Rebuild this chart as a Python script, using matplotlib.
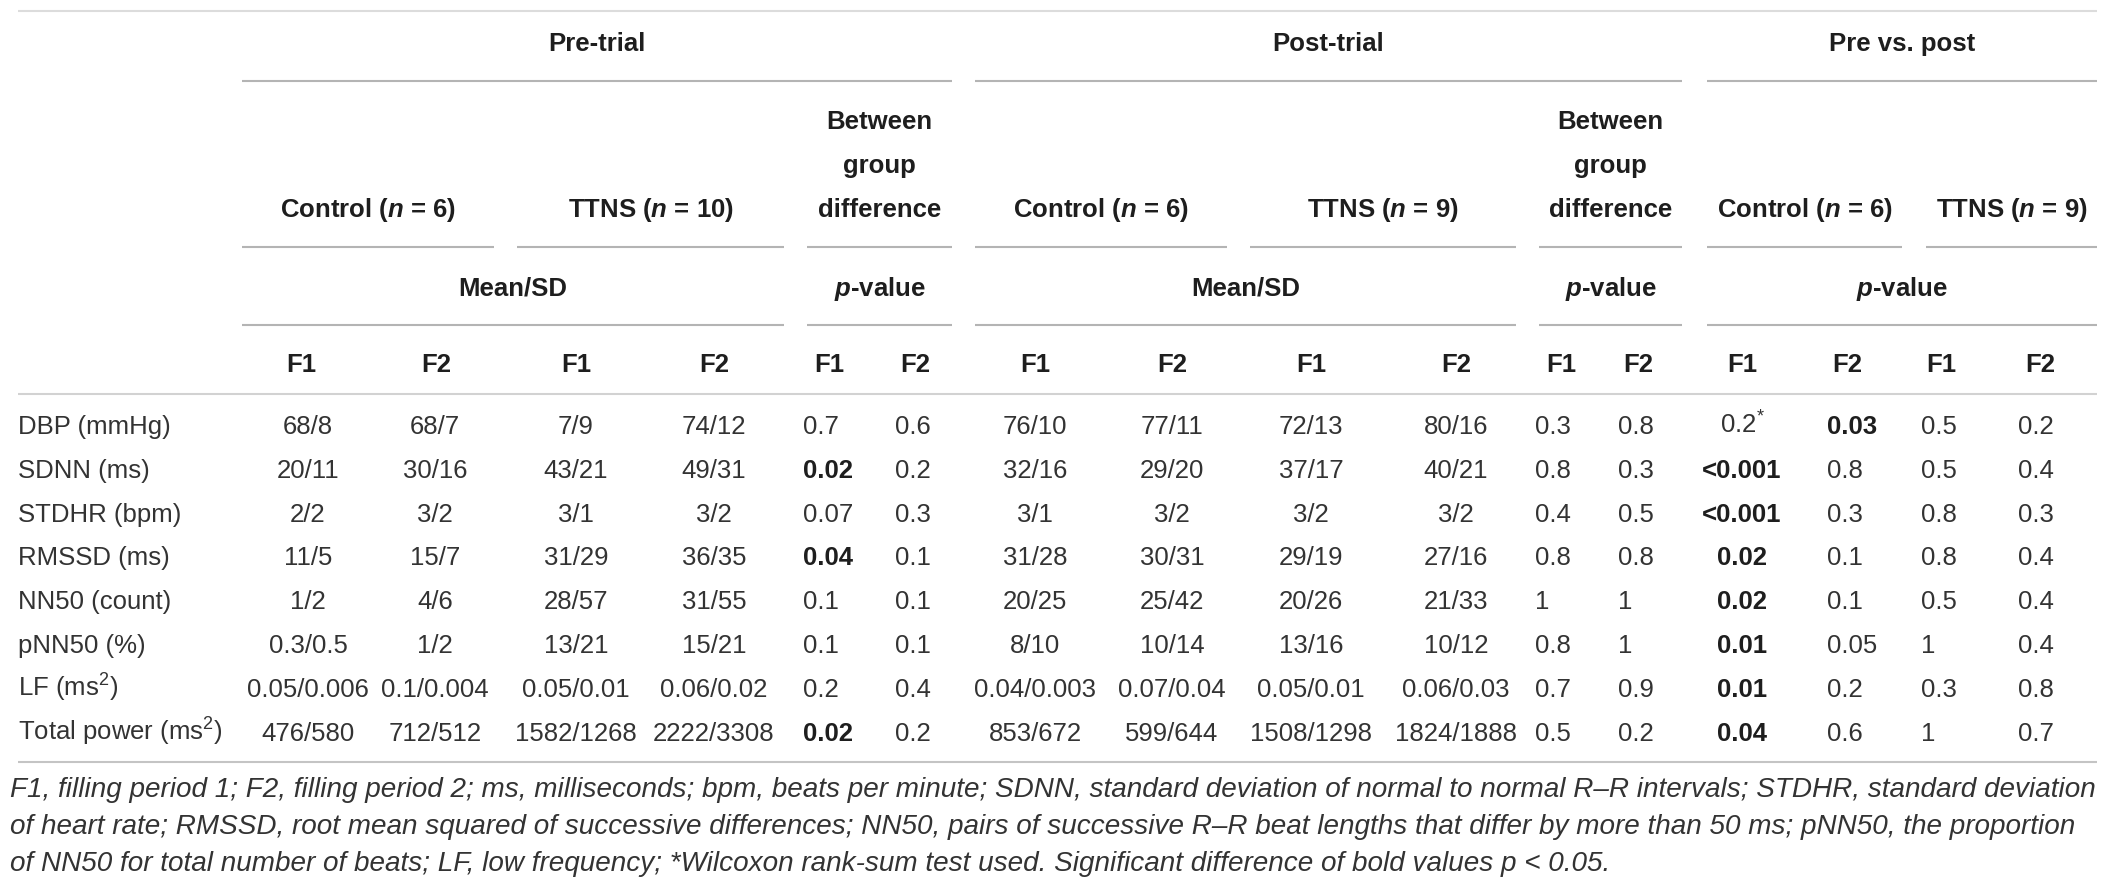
import matplotlib
matplotlib.use('Agg')
import matplotlib.pyplot as plt

FONT = 'Liberation Sans'
plt.rcParams['font.family'] = [FONT, 'DejaVu Sans']
plt.rcParams['mathtext.fontset'] = 'custom'
plt.rcParams['mathtext.rm'] = FONT
plt.rcParams['mathtext.it'] = FONT + ':italic'
plt.rcParams['mathtext.bf'] = FONT + ':bold'
plt.rcParams['mathtext.bfit'] = FONT + ':italic:bold'

# ---- table content ----
periods = ['Pre-trial', 'Post-trial', 'Pre vs. post']
groups = ['Control ($\\mathbfit{n}$ = 6)', 'TTNS ($\\mathbfit{n}$ = 10)', 'Between group difference',
          'Control ($\\mathbfit{n}$ = 6)', 'TTNS ($\\mathbfit{n}$ = 9)', 'Between group difference',
          'Control ($\\mathbfit{n}$ = 6)', 'TTNS ($\\mathbfit{n}$ = 9)']
stats = ['Mean/SD', '$\\mathbfit{p}$-value', 'Mean/SD', '$\\mathbfit{p}$-value', '$\\mathbfit{p}$-value']
fillings = ['F1', 'F2'] * 8

row_labels = ['DBP (mmHg)', 'SDNN (ms)', 'STDHR (bpm)', 'RMSSD (ms)', 'NN50 (count)',
              'pNN50 (%)', 'LF (ms$^{2}$)', 'Total power (ms$^{2}$)']

pre_control_f1 = ['68/8', '20/11', '2/2', '11/5', '1/2', '0.3/0.5', '0.05/0.006', '476/580']
pre_control_f2 = ['68/7', '30/16', '3/2', '15/7', '4/6', '1/2', '0.1/0.004', '712/512']
pre_ttns_f1 = ['7/9', '43/21', '3/1', '31/29', '28/57', '13/21', '0.05/0.01', '1582/1268']
pre_ttns_f2 = ['74/12', '49/31', '3/2', '36/35', '31/55', '15/21', '0.06/0.02', '2222/3308']
pre_p_f1 = ['0.7', '0.02', '0.07', '0.04', '0.1', '0.1', '0.2', '0.02']
pre_p_f2 = ['0.6', '0.2', '0.3', '0.1', '0.1', '0.1', '0.4', '0.2']
post_control_f1 = ['76/10', '32/16', '3/1', '31/28', '20/25', '8/10', '0.04/0.003', '853/672']
post_control_f2 = ['77/11', '29/20', '3/2', '30/31', '25/42', '10/14', '0.07/0.04', '599/644']
post_ttns_f1 = ['72/13', '37/17', '3/2', '29/19', '20/26', '13/16', '0.05/0.01', '1508/1298']
post_ttns_f2 = ['80/16', '40/21', '3/2', '27/16', '21/33', '10/12', '0.06/0.03', '1824/1888']
post_p_f1 = ['0.3', '0.8', '0.4', '0.8', '1', '0.8', '0.7', '0.5']
post_p_f2 = ['0.8', '0.3', '0.5', '0.8', '1', '1', '0.9', '0.2']
pvp_control_f1 = ['0.2*', '<0.001', '<0.001', '0.02', '0.02', '0.01', '0.01', '0.04']
pvp_control_f2 = ['0.03', '0.8', '0.3', '0.1', '0.1', '0.05', '0.2', '0.6']
pvp_ttns_f1 = ['0.5', '0.5', '0.8', '0.8', '0.5', '1', '0.3', '1']
pvp_ttns_f2 = ['0.2', '0.4', '0.3', '0.4', '0.4', '0.4', '0.8', '0.7']

columns = [pre_control_f1, pre_control_f2, pre_ttns_f1, pre_ttns_f2, pre_p_f1, pre_p_f2,
           post_control_f1, post_control_f2, post_ttns_f1, post_ttns_f2, post_p_f1, post_p_f2,
           pvp_control_f1, pvp_control_f2, pvp_ttns_f1, pvp_ttns_f2]
p_columns = [4, 5, 10, 11, 12, 13, 14, 15]

caption = [
    'F1, filling period 1; F2, filling period 2; ms, milliseconds; bpm, beats per minute; SDNN, standard deviation of normal to normal R\u2013R intervals; STDHR, standard deviation',
    'of heart rate; RMSSD, root mean squared of successive differences; NN50, pairs of successive R\u2013R beat lengths that differ by more than 50 ms; pNN50, the proportion',
    'of NN50 for total number of beats; LF, low frequency; *Wilcoxon rank-sum test used. Significant difference of bold values p < 0.05.',
]

# ---- layout (pixels) ----
W, H = 2126, 889
L, R = 18, 2097
period_spans = [(242, 952), (975, 1682), (1707, 2097)]
group_spans = [(242, 494), (517, 784), (807, 952), (975, 1227), (1250, 1516), (1539, 1682),
               (1707, 1902), (1926, 2097)]
stat_spans = [(242, 784), (807, 952), (975, 1516), (1539, 1682), (1707, 2097)]
col_x = [308, 435, 576, 714, 803, 895, 1035, 1172, 1311, 1456, 1535, 1618, 1742, 1827, 1921, 2018]
col_ha = ['center'] * 4 + ['left'] * 2 + ['center'] * 4 + ['left'] * 2 + ['center'] + ['left'] * 3
head_x = [301, 436, 576, 714, 829, 915, 1035, 1172, 1311, 1456, 1561, 1638, 1742, 1847, 1941, 2040]
row_y0, row_dy = 425, 43.8
FS = 18.5
BASE = 9  # baseline offset from visual centre
txt_c = '#333333'
head_c = '#1e1e1e'
line_c = '#b4b4b4'


def is_sig(s):
    s = s.replace('*', '')
    if s.startswith('<'):
        return True
    return float(s) < 0.05


fig = plt.figure(figsize=(W / 100, H / 100), dpi=100)
ax = fig.add_axes([0, 0, 1, 1])
ax.set_xlim(0, W)
ax.set_ylim(H, 0)
ax.axis('off')


def hline(y, x0, x1, c=line_c, lw=1.5):
    ax.plot([x0, x1], [y, y], color=c, lw=lw, solid_capstyle='butt')


def head(x, y, s, ha='center'):
    ax.text(x, y + BASE, s, ha=ha, va='baseline', fontsize=FS, fontweight='bold', color=head_c)


# rules
hline(11, L, R, c='#dcdcdc')
for x0, x1 in period_spans:
    hline(81, x0, x1)
for x0, x1 in group_spans:
    hline(247, x0, x1)
for x0, x1 in stat_spans:
    hline(325, x0, x1)
hline(394, L, R, c='#d2d2d2')
hline(762, L, R, c='#c4c4c4')

# header rows
for name, (x0, x1) in zip(periods, period_spans):
    head((x0 + x1) / 2, 42, name)
for name, (x0, x1) in zip(groups, group_spans):
    xc = (x0 + x1) / 2
    if name.startswith('Between'):
        for word, y in zip(['Between', 'group', 'difference'], [120, 164, 208]):
            head(xc, y, word)
    else:
        head(xc, 208, name)
for name, (x0, x1) in zip(stats, stat_spans):
    head((x0 + x1) / 2, 287, name)
for name, x in zip(fillings, head_x):
    head(x, 363, name)

# body
for i, lab in enumerate(row_labels):
    y = row_y0 + i * row_dy + BASE
    ax.text(L, y, lab, ha='left', va='baseline', fontsize=FS, color=txt_c)
    for j, col in enumerate(columns):
        s = col[i]
        bold = j in p_columns and is_sig(s)
        if s.endswith('*'):
            s = s[:-1] + '$^{*}$'
        ax.text(col_x[j], y, s, ha=col_ha[j], va='baseline', fontsize=FS,
                fontweight='bold' if bold else 'normal', color=head_c if bold else txt_c)

# caption, sized so the first line fills the table width
cap_y = [797, 834, 871]
cap_texts = [ax.text(10, y, s, ha='left', va='baseline', fontsize=FS, style='italic', color=txt_c)
             for s, y in zip(caption, cap_y)]
fig.canvas.draw()
w0 = cap_texts[0].get_window_extent().width
cfs = FS * (2100 - 10) / w0
for t in cap_texts:
    t.set_fontsize(cfs)

fig.savefig('out.png', dpi=100)
